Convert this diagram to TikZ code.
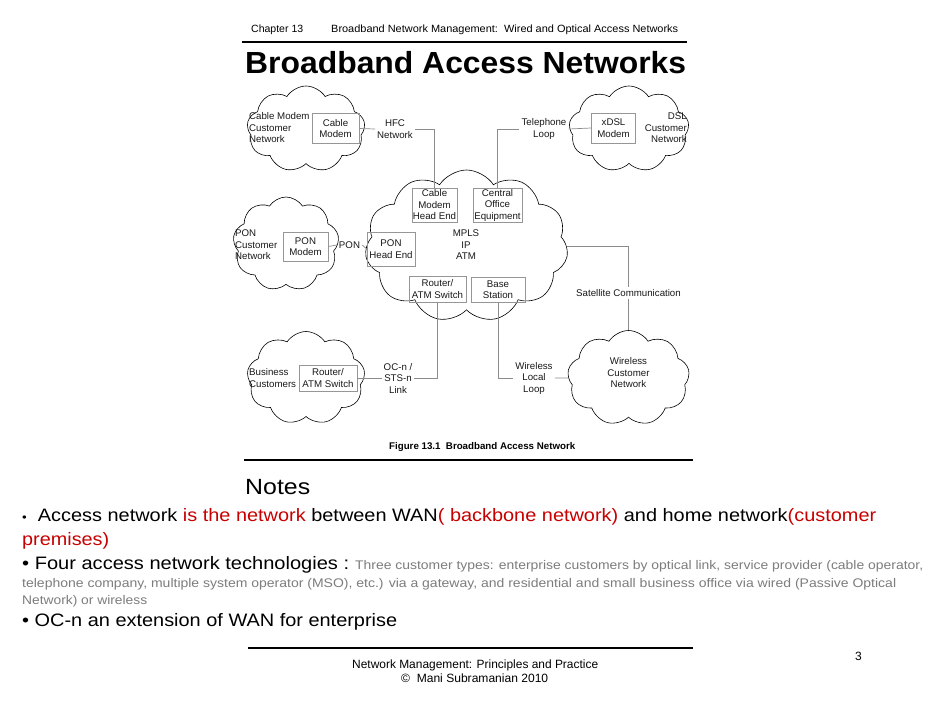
\documentclass[tikz,border=0pt]{standalone}
\usepackage{fontspec}
\setmainfont{Liberation Sans}
\usepackage{graphicx}
\usetikzlibrary{shapes.symbols}
\definecolor{boxgray}{RGB}{150,150,150}
\definecolor{linegray}{RGB}{140,140,140}
\definecolor{notered}{RGB}{200,0,0}
\definecolor{notegray}{RGB}{125,125,125}
\definecolor{diagtext}{RGB}{25,25,25}
\newcommand{\fitw}[2]{\resizebox{#1}{\height}{#2}}
\begin{document}
\begin{tikzpicture}[x=1pt,y=-1pt,
  cloudnode/.style={cloud, cloud puffs=9, cloud puff arc=115, cloud ignores aspect, draw=black, line width=0.6pt, inner sep=0pt},
  devbox/.style={draw=boxgray, line width=0.7pt, font=\fontsize{9.7}{11.5}\selectfont, text=diagtext, align=center, inner sep=0pt},
  lbl/.style={font=\fontsize{9.7}{11.5}\selectfont, text=diagtext, inner sep=2pt},
  wire/.style={draw=linegray, line width=0.7pt},
  txt/.style={inner sep=0pt, anchor=base west},
  rule/.style={line width=2pt, black},
]
\fill[white] (0,0) rectangle (941,706);
\useasboundingbox (0,0) rectangle (941,706);

% header
\node[txt] (hdrA) at (251,33) {\fontsize{10.5}{12}\selectfont\fitw{52pt}{Chapter 13}};
\node[txt] (hdrB) at (331,33) {\fontsize{10.5}{12}\selectfont\fitw{347pt}{Broadband Network Management:\ \ Wired and Optical Access Networks}};
\draw[rule] (242,42) -- (687,42);
\node[txt] (title) at (245,74) {\fontsize{30.5}{34}\selectfont\bfseries\fitw{441pt}{Broadband Access Networks}};

% clouds
\node[cloudnode, minimum width=118pt, minimum height=86pt] (ccable) at (306,129) {};
\node[cloudnode, minimum width=120pt, minimum height=86pt] (cdsl) at (629,129) {};
\node[cloudnode, minimum width=106pt, minimum height=94pt] (cpon) at (286,244) {};
\node[cloudnode, cloud puffs=11, minimum width=203pt, minimum height=152pt] (ccore) at (466.5,246) {};
\node[cloudnode, minimum width=118pt, minimum height=93pt] (cbus) at (306,378) {};
\node[cloudnode, minimum width=122pt, minimum height=95pt] (cwl) at (628.5,378) {};

% cloud texts
\node[lbl, anchor=west, align=left, inner sep=0pt] (tcable) at (249,128) {Cable Modem\\Customer\\Network};
\node[lbl, anchor=east, align=right, inner sep=0pt] (tdsl) at (687,128) {DSL\\Customer\\Network};
\node[lbl, anchor=west, align=left, inner sep=0pt] (tpon) at (235,245) {PON\\Customer\\Network};
\node[lbl, anchor=west, align=left, inner sep=0pt] (tbus) at (249,378) {Business\\Customers};
\node[lbl, align=center, inner sep=0pt] (twl) at (628.5,373) {Wireless\\Customer\\Network};
\node[lbl, align=center, inner sep=0pt] (tcore) at (466,245) {MPLS\\IP\\ATM};

% boxes
\node[devbox, minimum width=47pt, minimum height=30pt] (cm) at (335.5,128.5) {Cable\\Modem};
\node[devbox, minimum width=44pt, minimum height=30pt] (xdsl) at (613.5,128) {xDSL\\Modem};
\node[devbox, minimum width=45pt, minimum height=34pt] (cmhe) at (434.5,205) {Cable\\Modem\\Head End};
\node[devbox, minimum width=49pt, minimum height=34pt] (coe) at (497.5,205) {Central\\Office\\Equipment};
\node[devbox, minimum width=48pt, minimum height=34pt] (pohe) at (391,249) {PON\\Head End};
\node[devbox, minimum width=45pt, minimum height=29pt] (ponm) at (305.5,246.5) {PON\\Modem};
\node[devbox, minimum width=57pt, minimum height=26pt] (rcen) at (437.5,289) {Router/\\ATM Switch};
\node[devbox, minimum width=54pt, minimum height=25pt] (base) at (498,289.5) {Base\\Station};
\node[devbox, minimum width=58pt, minimum height=26pt] (rbus) at (328,378) {Router/\\ATM Switch};

% link labels
\node[lbl, align=center] (hfc) at (395,129) {HFC\\Network};
\node[lbl, align=center] (tel) at (544,129) {Telephone\\Loop};
\node[lbl] (pon) at (349.5,245) {PON};
\node[lbl] (sat) at (628.5,293) {Satellite Communication};
\node[lbl, align=center] (ocn) at (398,378) {OC-n /\\STS-n\\Link};
\node[lbl, align=center] (wll) at (534,378) {Wireless\\Local\\Loop};

% connectors
\draw[wire] (cm.east) -- (hfc.west);
\draw[wire] (hfc.east) -| (cmhe.north);
\draw[wire] (xdsl.west) -- (tel.east);
\draw[wire] (tel.west) -| (coe.north);
\draw[wire] (ponm.east) -- (pon.west);
\draw[wire] (pon.east) -- (pohe.west);
\draw[wire] (ccore.east) -| (sat.north);
\draw[wire] (sat.south) -- (cwl.north);
\draw[wire] (rbus.east) -- (ocn.west);
\draw[wire] (ocn.east) -| (rcen.south);
\draw[wire] (base.south) |- (wll.west);
\draw[wire] (wll.east) -- (cwl.west);

% caption
\node[txt] (cap) at (389,449) {\fontsize{9.7}{11}\selectfont\bfseries\fitw{186pt}{Figure 13.1\ \ Broadband Access Network}};
\draw[rule] (244,460) -- (693,460);

% notes
\node[txt] (notes) at (245,494) {\fontsize{22}{24}\selectfont\fitw{65pt}{Notes}};
\node[txt] (n1) at (22,521) {\fontsize{18}{20}\selectfont\fitw{854pt}{{\fontsize{12}{12}\selectfont\textbullet}\ \ Access network \textcolor{notered}{is the network} between WAN\textcolor{notered}{( backbone network)} and home network\textcolor{notered}{(customer}}};
\node[txt] (n2) at (22,545) {\fontsize{18}{20}\selectfont\color{notered}\fitw{87pt}{premises)}};
\node[txt] (n3a) at (22,569) {\fontsize{18}{20}\selectfont\fitw{327pt}{\textbullet\ Four access network technologies :}};
\node[txt] (n3b) at (355,569) {\fontsize{12.5}{14}\selectfont\color{notegray}\fitw{568pt}{Three customer types: enterprise customers by optical link, service provider (cable operator,}};
\node[txt] (n4) at (22,587) {\fontsize{12.5}{14}\selectfont\color{notegray}\fitw{874pt}{telephone company, multiple system operator (MSO), etc.) via a gateway, and residential and small business office via wired (Passive Optical}};
\node[txt] (n5) at (22,604) {\fontsize{12.5}{14}\selectfont\color{notegray}\fitw{125pt}{Network) or wireless}};
\node[txt] (n6) at (22,626) {\fontsize{18}{20}\selectfont\fitw{375pt}{\textbullet\ OC-n an extension of WAN for enterprise}};

% footer
\draw[rule] (248,648) -- (693,648);
\node[txt] (f1) at (352,668) {\fontsize{12}{14}\selectfont\fitw{246pt}{Network Management: Principles and Practice}};
\node[txt] (f2) at (401,682) {\fontsize{12}{14}\selectfont\fitw{147pt}{\textcopyright\ \ Mani Subramanian 2010}};
\node[txt] (pg) at (855,660) {\fontsize{12}{14}\selectfont 3};
\end{tikzpicture}
\end{document}
